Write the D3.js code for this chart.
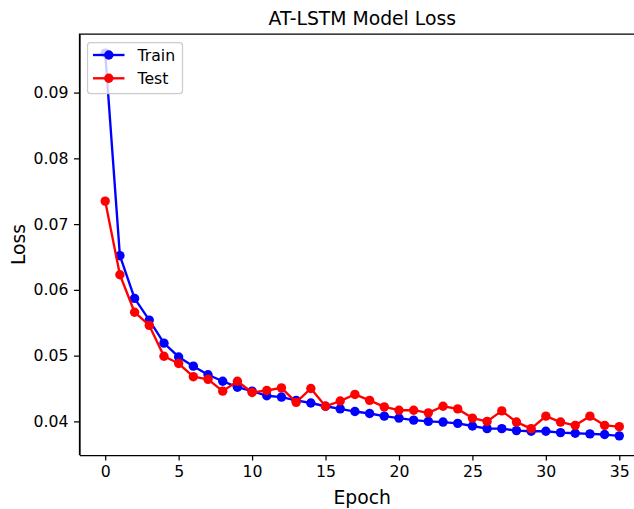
<!DOCTYPE html>
<html>
<head>
<meta charset="utf-8">
<script src="https://cdn.jsdelivr.net/npm/d3@7"></script>
<style>
    body { margin: 0; background: #fff; }
    svg { display: block; font-family: 'DejaVu Sans', sans-serif; }
    .axis path, .axis line { stroke: #000; stroke-width: 1.25; }
    .axis text { font-size: 15.7px; fill: #000; font-family: 'DejaVu Sans', sans-serif; }
</style>
</head>
<body>
<svg id="chart"></svg>
<script>
const epochs = [0, 1, 2, 3, 4, 5, 6, 7, 8, 9, 10, 11, 12, 13, 14, 15, 16, 17,
    18, 19, 20, 21, 22, 23, 24, 25, 26, 27, 28, 29, 30, 31, 32, 33, 34, 35]

const trainLoss = [0.0960, 0.0652, 0.0587, 0.0554, 0.0519, 0.0498, 0.0484, 0.0471, 0.0461,
    0.0452, 0.0446, 0.0439, 0.0437, 0.0432, 0.0428, 0.0423, 0.0419, 0.0415, 0.0412,
    0.0408, 0.0405, 0.0402, 0.0400, 0.0399, 0.0397, 0.0393, 0.0389, 0.0389, 0.0386,
    0.0385, 0.0385, 0.0383, 0.0382, 0.0381, 0.0380, 0.0378]

const testLoss = [0.0735, 0.0623, 0.0566, 0.0546, 0.0499, 0.0488, 0.0468, 0.0464, 0.0446,
    0.0461, 0.0444, 0.0447, 0.0451, 0.0429, 0.0450, 0.0423, 0.0431, 0.0441, 0.0432,
    0.0422, 0.0417, 0.0417, 0.0413, 0.0423, 0.0419, 0.0405, 0.0400, 0.0416, 0.0399,
    0.0389, 0.0408, 0.0399, 0.0394, 0.0408, 0.0394, 0.0392]

const seriesNames = ['Train', 'Test']
const seriesColors = ['#0000ff', '#ff0000']
const xTicks = [0, 5, 10, 15, 20, 25, 30, 35]
const yTicks = [0.04, 0.05, 0.06, 0.07, 0.08, 0.09]

const WIDTH = 634
const HEIGHT = 509
const area = { left: 79.5, right: 645, top: 34, bottom: 455 }

// matplotlib style 5% margins around the data
function padExtent(extent, frac = 0.05) {
    const span = extent[1] - extent[0]
    return [extent[0] - span * frac, extent[1] + span * frac]
}

const series = [trainLoss, testLoss].map((values, i) => ({
    name: seriesNames[i],
    color: seriesColors[i],
    points: values.map((v, j) => [epochs[j], v]),
}))

const xScale = d3.scaleLinear()
    .domain(padExtent(d3.extent(epochs)))
    .range([area.left, area.right])

const yScale = d3.scaleLinear()
    .domain(padExtent(d3.extent([...trainLoss, ...testLoss])))
    .range([area.bottom, area.top])

const svg = d3.select('#chart')
    .attr('width', WIDTH)
    .attr('height', HEIGHT)
    .attr('viewBox', [0, 0, WIDTH, HEIGHT].join(' '))

// Axes
svg.append('g')
    .classed('axis axis--x', true)
    .attr('transform', `translate(0,${area.bottom})`)
    .call(d3.axisBottom(xScale).tickValues(xTicks).tickSize(5.5).tickPadding(5.5).tickSizeOuter(0))

svg.append('g')
    .classed('axis axis--y', true)
    .attr('transform', `translate(${area.left},0)`)
    .call(d3.axisLeft(yScale).tickValues(yTicks).tickFormat(d3.format('.2f')).tickSize(5.5).tickPadding(5.5).tickSizeOuter(0))

// frame (top and right spines)
svg.append('path')
    .attr('d', `M${area.left},${area.bottom}V${area.top}H${area.right}V${area.bottom}`)
    .attr('fill', 'none')
    .attr('stroke', '#000')
    .attr('stroke-width', 1.25)

// Lines and markers
const line = d3.line()
    .x(d => xScale(d[0]))
    .y(d => yScale(d[1]))

const groups = svg.append('g')
    .selectAll('g')
    .data(series)
    .join('g')

groups.append('path')
    .attr('d', d => line(d.points))
    .attr('fill', 'none')
    .attr('stroke', d => d.color)
    .attr('stroke-width', 2.35)
    .attr('stroke-linejoin', 'round')

groups.selectAll('circle')
    .data(d => d.points.map(p => ({ p, color: d.color })))
    .join('circle')
    .attr('cx', d => xScale(d.p[0]))
    .attr('cy', d => yScale(d.p[1]))
    .attr('r', 4.7)
    .attr('fill', d => d.color)

// Title and axis labels
svg.append('text')
    .attr('x', (area.left + area.right) / 2)
    .attr('y', 25)
    .attr('text-anchor', 'middle')
    .attr('font-size', 18.8)
    .text('AT-LSTM Model Loss')

svg.append('text')
    .attr('x', (area.left + area.right) / 2)
    .attr('y', 504)
    .attr('text-anchor', 'middle')
    .attr('font-size', 18.8)
    .text('Epoch')

svg.append('text')
    .attr('transform', `translate(25,${(area.top + area.bottom) / 2}) rotate(-90)`)
    .attr('text-anchor', 'middle')
    .attr('font-size', 18.8)
    .text('Loss')

// Legend
const legend = svg.append('g')
    .attr('transform', 'translate(87.5,42.5)')

legend.append('rect')
    .attr('width', 95)
    .attr('height', 51)
    .attr('rx', 3)
    .attr('fill', '#fff')
    .attr('fill-opacity', 0.8)
    .attr('stroke', '#cccccc')
    .attr('stroke-width', 1.25)

const items = legend.selectAll('g.item')
    .data(series)
    .join('g')
    .classed('item', true)
    .attr('transform', (d, i) => `translate(0,${12.5 + i * 23.3})`)

items.append('line')
    .attr('x1', 5.5)
    .attr('x2', 37)
    .attr('stroke', d => d.color)
    .attr('stroke-width', 2.35)

items.append('circle')
    .attr('cx', 21.3)
    .attr('r', 4.7)
    .attr('fill', d => d.color)

items.append('text')
    .attr('x', 50)
    .attr('dy', '0.36em')
    .attr('font-size', 15.7)
    .text(d => d.name)
</script>
</body>
</html>
